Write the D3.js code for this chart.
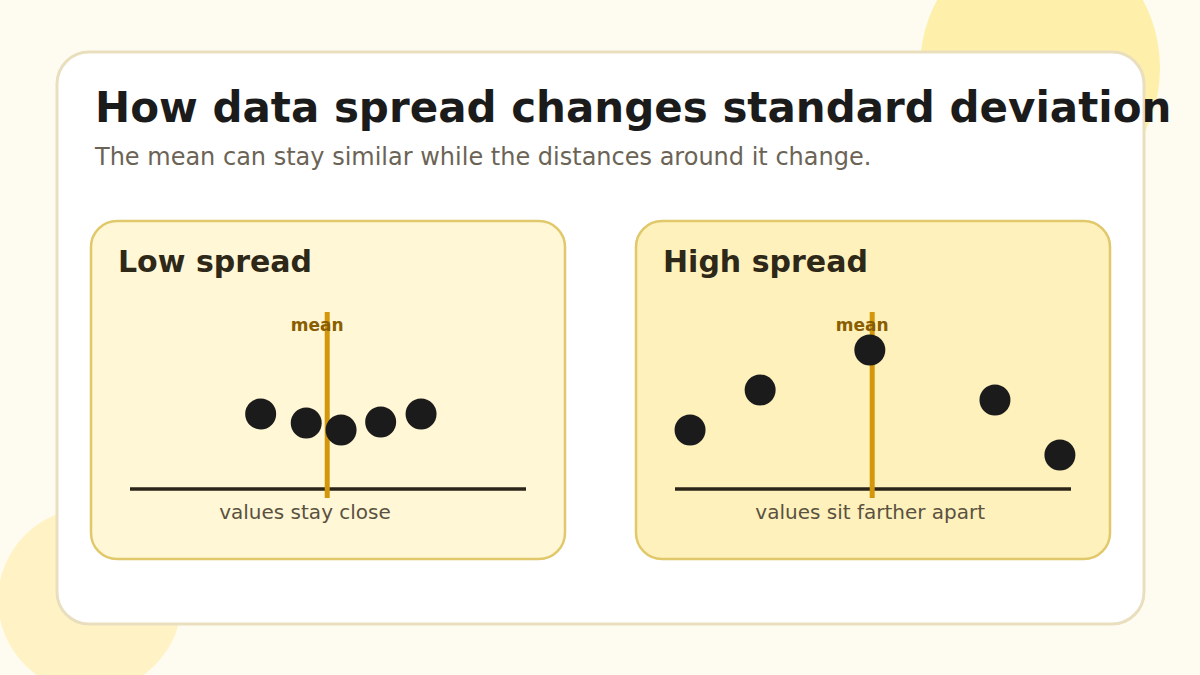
<!DOCTYPE html>
<html>
<head>
<meta charset="utf-8">
<script src="https://cdn.jsdelivr.net/npm/d3@7"></script>
<style>
  html, body { margin: 0; padding: 0; background: #fefcf1; }
  svg { display: block; font-family: "DejaVu Sans", sans-serif; }
</style>
</head>
<body>
<div id="chart"></div>
<script>
// 圖表尺寸
const W = 1200, H = 675;

// 資料：面板、點的位置（數值）與高度（抖動）
const panelNames = ["Low spread", "High spread"];
const captions = ["values stay close", "values sit farther apart"];
const lowValues = [33, 44.5, 53.3, 63.3, 73.5];
const lowLift = [75, 66, 59, 67, 75];
const highValues = [3.8, 21.5, 49.2, 80.8, 97.2];
const highLift = [59, 99, 139, 89, 34];
const meanValues = [49.8, 49.8];
const captionValues = [44.2, 49.3];

const svg = d3.select("#chart").append("svg")
    .attr("width", W)
    .attr("height", H);

// 背景裝飾圓
svg.append("rect").attr("width", W).attr("height", H).attr("fill", "#fefcf1");
svg.append("ellipse")
    .attr("cx", 1040).attr("cy", 68)
    .attr("rx", 120).attr("ry", 132)
    .attr("fill", "#feefab");
svg.append("circle")
    .attr("cx", 90).attr("cy", 600)
    .attr("r", 92)
    .attr("fill", "#fff3c6");

// 主卡片
svg.append("rect")
    .attr("x", 57).attr("y", 52)
    .attr("width", 1087).attr("height", 572)
    .attr("rx", 32)
    .attr("fill", "#ffffff")
    .attr("stroke", "#e9dfbf")
    .attr("stroke-width", 3);

svg.append("text")
    .attr("x", 95).attr("y", 122)
    .attr("font-size", 42)
    .attr("font-weight", "bold")
    .attr("fill", "#1b1b1b")
    .text("How data spread changes standard deviation");

svg.append("text")
    .attr("x", 95).attr("y", 165)
    .attr("font-size", 24)
    .attr("fill", "#6b6456")
    .text("The mean can stay similar while the distances around it change.");

// 面板
const panelX = [91, 636];
const panelFill = ["#fff7d6", "#fef1bc"];
const dataSets = [
    { values: lowValues, lift: lowLift },
    { values: highValues, lift: highLift }
];

const axisY = 489;
const y = d3.scaleLinear().domain([0, 180]).range([axisY, axisY - 180]);

panelNames.forEach((name, i) => {
    const g = svg.append("g").attr("transform", `translate(${panelX[i]},221)`);

    g.append("rect")
        .attr("width", 474).attr("height", 338)
        .attr("rx", 26)
        .attr("fill", panelFill[i])
        .attr("stroke", "#e1c86b")
        .attr("stroke-width", 2.5);

    g.append("text")
        .attr("x", 27).attr("y", 51)
        .attr("font-size", 30)
        .attr("font-weight", "bold")
        .attr("fill", "#2e2818")
        .text(name);

    const x = d3.scaleLinear().domain([0, 100]).range([panelX[i] + 39, panelX[i] + 435]);

    // 基準線
    svg.append("line")
        .attr("x1", x(0)).attr("x2", x(100))
        .attr("y1", axisY).attr("y2", axisY)
        .attr("stroke", "#2b2519")
        .attr("stroke-width", 3.5);

    // 平均線
    svg.append("line")
        .attr("x1", x(meanValues[i])).attr("x2", x(meanValues[i]))
        .attr("y1", y(177)).attr("y2", y(-9))
        .attr("stroke", "#d4960b")
        .attr("stroke-width", 5);

    svg.append("text")
        .attr("x", x(meanValues[i]) - 10).attr("y", 331)
        .attr("text-anchor", "middle")
        .attr("font-size", 17)
        .attr("font-weight", "bold")
        .attr("fill", "#8a5e00")
        .text("mean");

    const pts = dataSets[i].values.map((v, k) => ({ v, lift: dataSets[i].lift[k] }));
    svg.append("g").selectAll("circle")
        .data(pts)
        .enter()
        .append("circle")
        .attr("cx", d => x(d.v))
        .attr("cy", d => y(d.lift))
        .attr("r", 15.5)
        .attr("fill", "#1b1b1b");

    svg.append("text")
        .attr("x", x(captionValues[i])).attr("y", 519)
        .attr("text-anchor", "middle")
        .attr("font-size", 20)
        .attr("fill", "#5a5140")
        .text(captions[i]);
});
</script>
</body>
</html>
